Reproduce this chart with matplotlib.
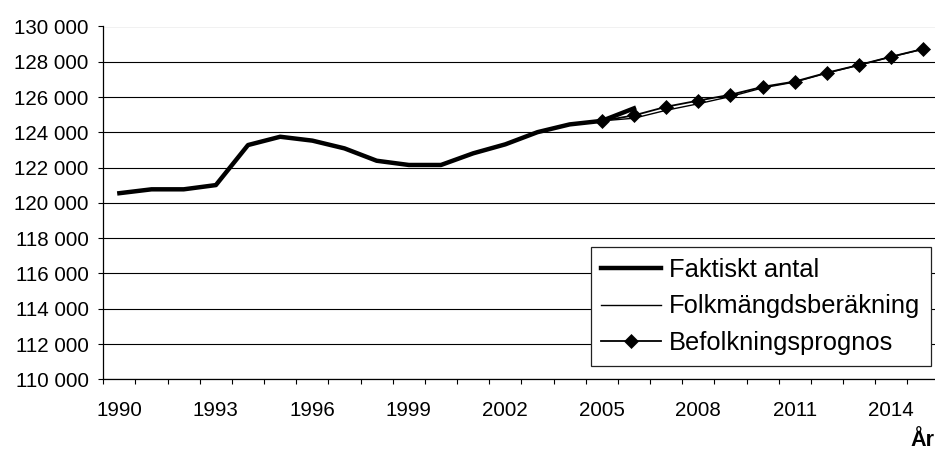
import matplotlib
matplotlib.use("Agg")
import matplotlib.pyplot as plt
import numpy as np
from matplotlib.ticker import FuncFormatter

plt.rcParams['font.family'] = ['Liberation Sans', 'DejaVu Sans']

years = list(range(1990, 2016))
actual_years = list(range(1990, 2007))
actual = [120550, 120770, 120770, 121010, 123280, 123750, 123530, 123090,
          122390, 122150, 122150, 122810, 123320, 124010, 124450, 124650, 125360]
calc_years = list(range(2005, 2016))
calc = [124650, 124800, 125250, 125620, 126030, 126520, 126850, 127360,
        127810, 128280, 128720]
prog_years = list(range(2005, 2016))
prog = [124650, 124960, 125450, 125800, 126130, 126580, 126880, 127380,
        127820, 128290, 128730]
tick_label_years = list(range(1990, 2016, 3))
yticks = list(range(110000, 130001, 2000))

W, H = 935, 449
fig = plt.figure(figsize=(W / 100, H / 100), dpi=100)
left, right, bottom, top = 103.3, 939.5, 379.3, 26.5
ax = fig.add_axes([left / W, (H - bottom) / H, (right - left) / W, (bottom - top) / H])

def xi(ys):
    return [years.index(y) for y in ys]

ax.plot(xi(actual_years), actual, color='black', lw=3.2, solid_joinstyle='round',
        label='Faktiskt antal', zorder=3)
ax.plot(xi(calc_years), calc, color='black', lw=1.0, label='Folkmängdsberäkning', zorder=3)
ax.plot(xi(prog_years), prog, color='black', lw=1.3, marker='D', markersize=7.3,
        markeredgewidth=0.5, label='Befolkningsprognos', zorder=4)

ax.set_xlim(-0.5, len(years) - 0.5)
ax.set_ylim(110000, 130000)
ax.set_yticks(yticks)
ax.yaxis.set_major_formatter(FuncFormatter(lambda v, p: f"{int(v):,}".replace(",", " ")))
ax.grid(axis='y', color='black', lw=0.8)
ax.set_axisbelow(True)

# x: labels at category centres, tick marks at category boundaries
ax.set_xticks([years.index(y) for y in tick_label_years])
ax.set_xticklabels([str(y) for y in tick_label_years])
ax.set_xticks(np.arange(-0.5, len(years) + 0.5, 1.0), minor=True)
ax.tick_params(axis='x', which='major', length=0, pad=15.5, labelsize=14.8)
ax.tick_params(axis='x', which='minor', length=3.6, width=0.8, direction='out')
ax.tick_params(axis='y', which='major', length=3.6, width=0.8, pad=7, labelsize=14.8)

for s in ['top', 'right']:
    ax.spines[s].set_visible(False)
for s in ['left', 'bottom']:
    ax.spines[s].set_linewidth(0.9)

leg = ax.legend(loc='lower right', bbox_to_anchor=(931 / W, (H - 366) / H),
                bbox_transform=fig.transFigure, fontsize=18.4, frameon=True,
                fancybox=False, framealpha=1, edgecolor='#222222',
                handlelength=2.35, handletextpad=0.3, labelspacing=0.5,
                borderpad=0.42, borderaxespad=0)
leg.get_frame().set_linewidth(0.9)

fig.text(934 / W, 3.5 / H, 'År', ha='right', va='baseline', fontsize=15.5,
         fontweight='bold')

fig.savefig('out.png', dpi=100)
